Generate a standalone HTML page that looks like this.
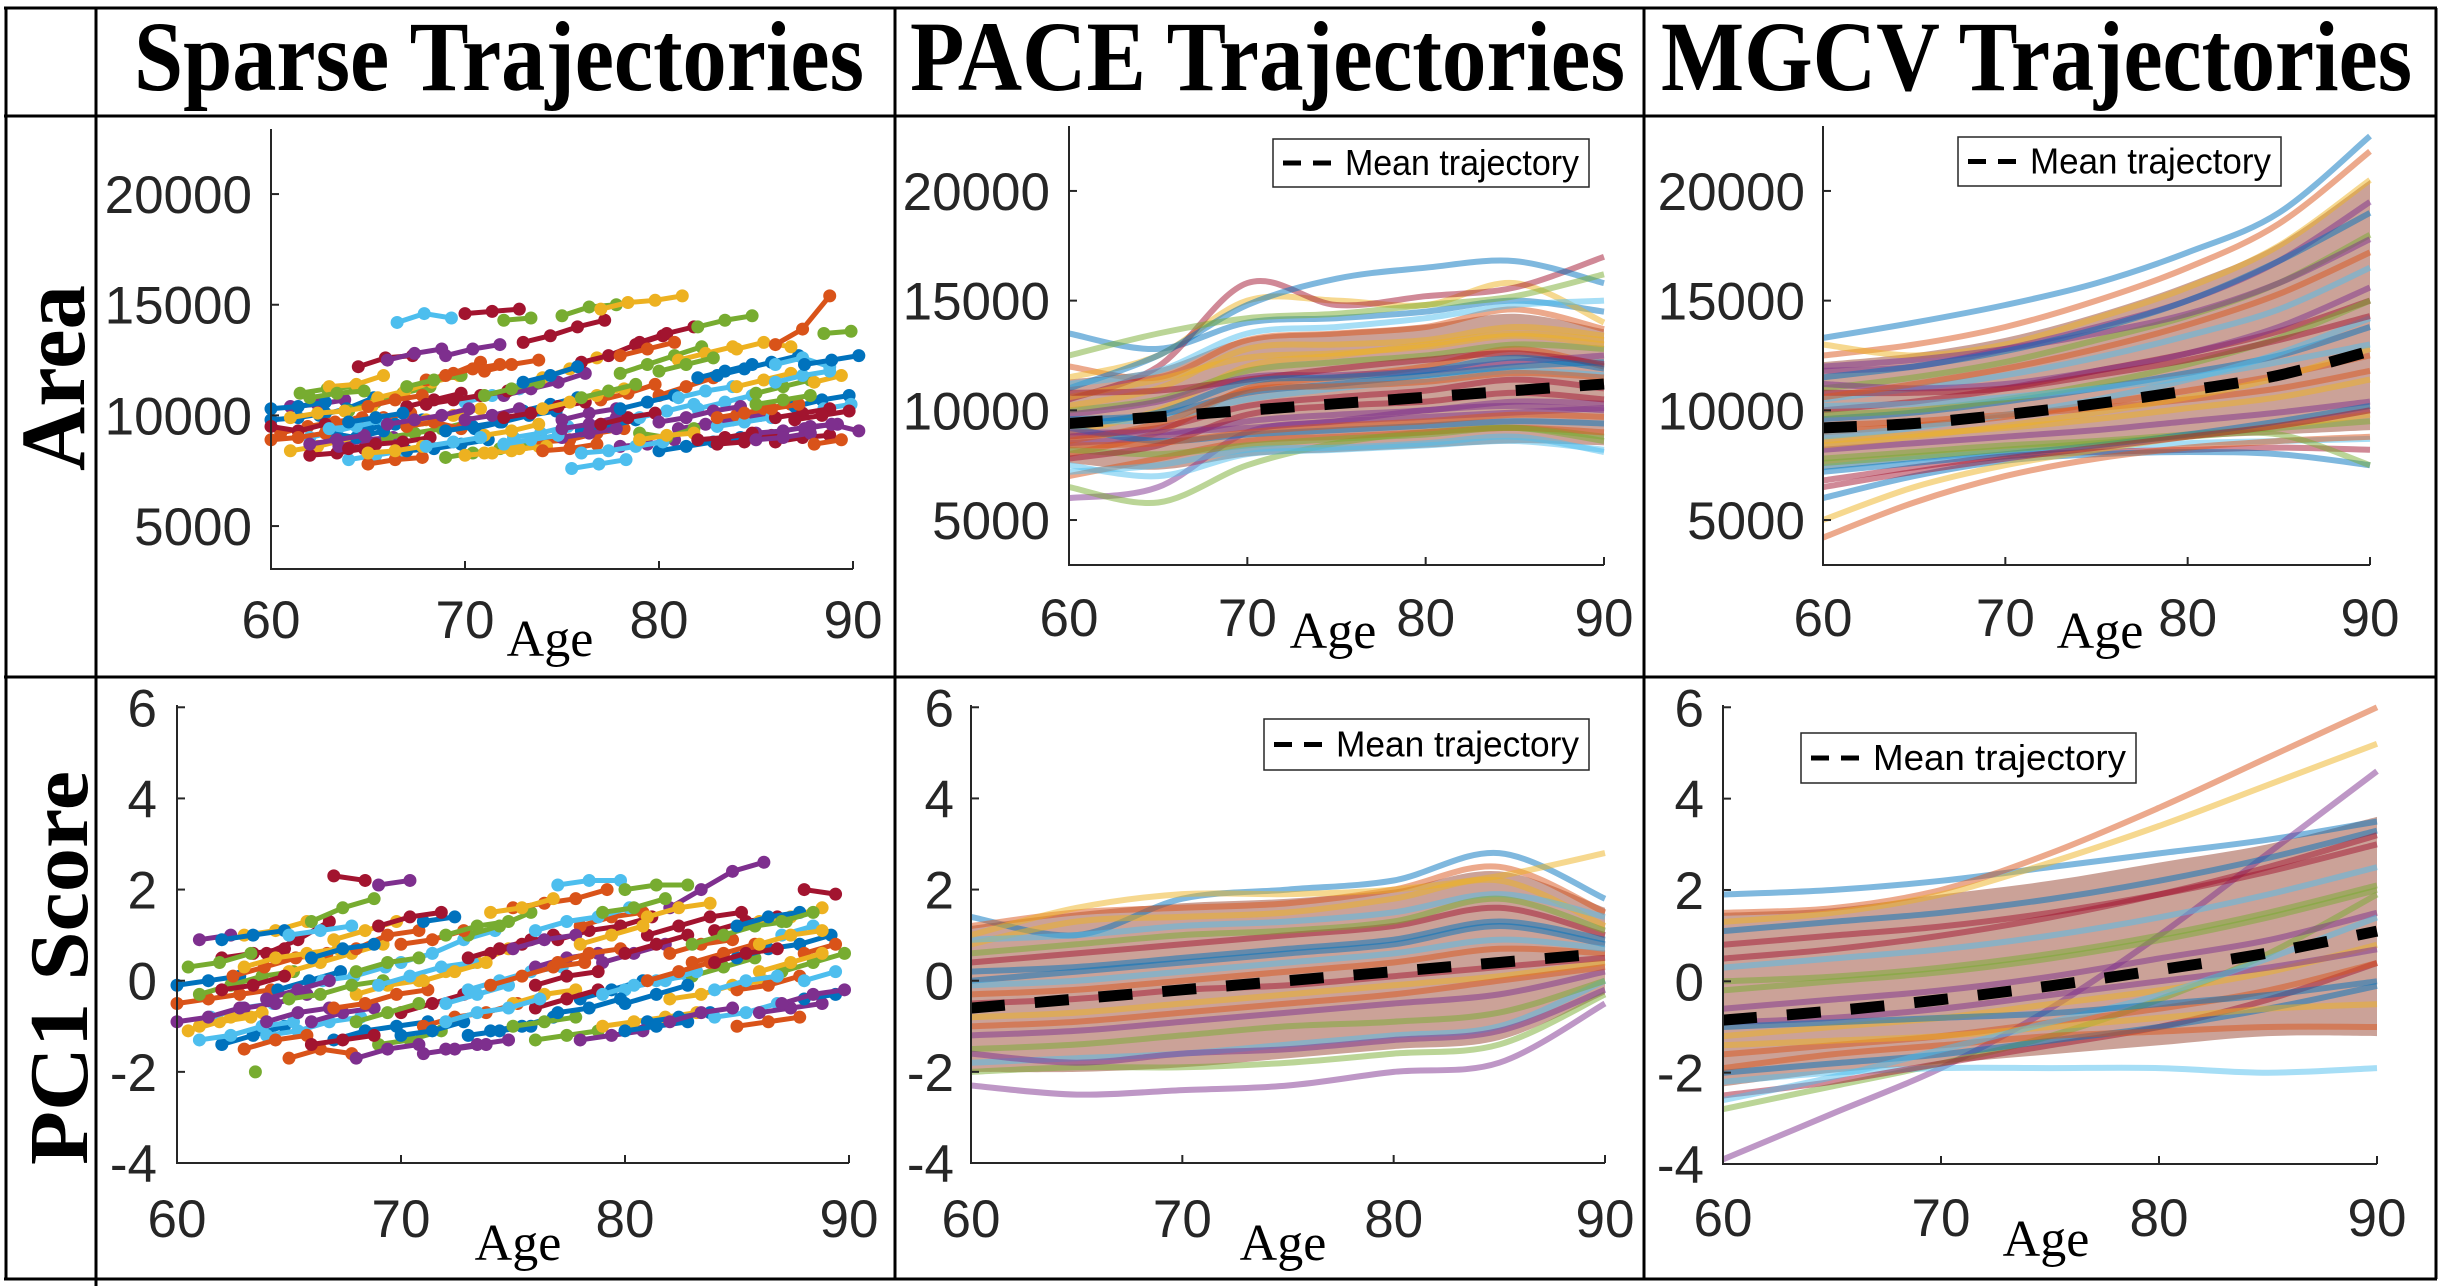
<!DOCTYPE html>
<html><head><meta charset="utf-8"><style>
html,body{margin:0;padding:0;background:#fff}
svg{display:block}
.tk{font-family:"Liberation Sans",sans-serif;font-size:53px;fill:#262626}
.hd{font-family:"Liberation Serif",serif;font-weight:bold;font-size:100px;fill:#000}
.ag{font-family:"Liberation Serif",serif;font-size:52px;fill:#000}
.lg{font-family:"Liberation Sans",sans-serif;font-size:36px;fill:#000}
</style></head><body>
<svg id="fig" width="2440" height="1286" viewBox="0 0 2440 1286" xmlns="http://www.w3.org/2000/svg">
<g stroke="#000" stroke-width="3">
<line x1="4" y1="8" x2="2437" y2="8"/><line x1="4" y1="116" x2="2437" y2="116"/>
<line x1="4" y1="677" x2="2437" y2="677"/><line x1="4" y1="1279" x2="2437" y2="1279"/>
<line x1="6" y1="8" x2="6" y2="1279"/><line x1="96" y1="8" x2="96" y2="1286"/>
<line x1="895" y1="8" x2="895" y2="1279"/><line x1="1644" y1="8" x2="1644" y2="1279"/>
<line x1="2436" y1="8" x2="2436" y2="1279"/>
</g>
<text class="hd" x="134" y="90" textLength="730" lengthAdjust="spacingAndGlyphs">Sparse Trajectories</text>
<text class="hd" x="910" y="90" textLength="715" lengthAdjust="spacingAndGlyphs">PACE Trajectories</text>
<text class="hd" x="1661" y="90" textLength="751" lengthAdjust="spacingAndGlyphs">MGCV Trajectories</text>
<text class="hd" transform="translate(84,378) rotate(-90)" text-anchor="middle" style="font-size:92px" textLength="186" lengthAdjust="spacingAndGlyphs">Area</text>
<text class="hd" transform="translate(87,968) rotate(-90)" text-anchor="middle" style="font-size:84px" textLength="394" lengthAdjust="spacingAndGlyphs">PC1 Score</text>
</svg>
<script>
const colors=['#0072BD','#D95319','#EDB120','#7E2F8E','#77AC30','#4DBEEE','#A2142F'];
const smoothAges=[60,65,70,75,80,85,90];
const areaTicks=[5000,10000,15000,20000];
const pcTicks=[-4,-2,0,2,4,6];
const ageTicks=[60,70,80,90];
const sparseStep=1.4;

const sparseArea=[[60,9800,9900,10100],[60.5,9200,9500,9700,9900],[61,8400,8600,8900],[61,10400,10500,10700],[61.5,11000,11200,11300],[62,9000,9300,9600,9800],[62,8200,8300,8500],[62.5,10000,10300,10800],[63,9600,9700,9900,10100],[63,11300,11400,11800],[63.5,8600,8900,9000],[64,10200,10600,11000,11300],[64,8000,8200,8400],[64.5,12200,12600,12700],[65,9400,9600,9800],[65,7800,8000,8100],[65.5,10800,11100,11500,11800],[66,12500,12800,13000],[66,9000,9200,9400,9700],[66.5,14200,14600,14400],[67,10400,10700,11000],[67,8400,8500,8700,8900],[68,11600,11900,12400],[68,9800,10000,10300],[69,12700,13000,13200],[69,8100,8300,8500,8700],[70,10600,10900,11200],[70,14600,14700,14800],[70.5,9400,9700,10000,10200],[71,12000,12300,12500],[71,8300,8400,8600],[72,10900,11200,11500,11900],[72,14300,14400],[72.5,9000,9200,9500],[73,13300,13600,14000,14300],[73,10200,10500,10800],[74,8800,8900,9200,9400],[74,11700,12100,12600],[75,9800,10100,10300],[75,14500,14900,15000],[75.5,7600,7800,8000],[76,12400,12700,13200,13600],[76,9300,9500,9800],[77,10700,11000,11400],[77,14800,15100,15200,15400],[78,8600,8700,8900],[78,11900,12300,12700,13100],[79,9900,10200,10500],[79,13300,13700,14000],[80,8400,8600,8800,9000],[80,10900,11300,11700],[81,12500,12800,13100],[81,9400,9600,9800,10000],[82,14000,14300,14500],[82,10300,10600,10900],[83,8700,8800,9100],[83,11800,12100,12400,12700],[84,10000,10300,10500],[84,13000,13300,13100],[85,9200,9300,9500,9600],[85,11000,11300,11600],[86,12300,12600,12200],[86,8800,9000,9100],[87,10400,10700,10900],[86,13200,13900,15400],[88,11500,11800],[87.5,9400,9600,9300],[88.5,13700,13800],[88.5,10300,10500],[60,9500,9300,9600],[63,9200,9000,9300],[67,9500,9700,9400],[71,9100,9300,9600],[75,9000,9200,9400],[79,9200,9000,9400],[83,9500,9700,9900],[86,9900,10100,10300],
[60,10300,10400,10600],[60,8900,9000,9200],[61,9900,10100,10200,10400],[62,8700,8900,9100],[62,10800,11000,11100],[63,9400,9500,9800],[64,8500,8700,8800,9000],[64,9700,9900,10100],[65,10400,10700,10900],[65,8300,8400,8600],[66,9600,9800,10000,10300],[67,11300,11600,11800],[68,8600,8800,9000],[68,10500,10700,10900,11100],[69,9300,9500,9700],[69,11800,12100,12300],[70,8200,8300,8500,8600],[70,9800,10000,10300],[71,10900,11200,11500],[72,8700,8900,9100],[72,9900,10100,10400,10600],[73,11500,11800,12200],[74,8400,8500,8700],[74,10300,10600,10900,11200],[75,9400,9600,9900],[76,10800,11100,11400],[76,8300,8400,8600,8800],[77,9600,9900,10100],[78,10300,10600,10900],[78,12700,13000,13300],[79,8900,9100,9200],[80,9700,9900,10200,10400],[80,12000,12300,12600],[81,10800,11100,11300],[82,8900,9000,9200],[82,11700,12000,12300],[83,9900,10100,10300,10500],[84,11300,11600,11900],[85,8900,9000,9200],[85,10500,10700,10900],[86,11500,11800,12000],[87,9800,10000,10200],[87.5,12300,12500,12700],[88,8700,8900]];
const sparsePC=[[60,-0.1,0.0,0.1],[60,-0.5,-0.4,-0.3,-0.2],[60.5,-1.1,-0.9,-0.8],[61,0.9,1.0],[61,-0.3,-0.1,0.1,0.2],[61.5,-0.8,-0.6,-0.5],[62,0.5,0.6,0.7],[62,-1.4,-1.2,-1.0],[62.5,0.1,0.3,0.5,0.6],[63,1.0,1.1,1.3],[63,-0.6,-0.5,-0.3],[63.5,-2.0],[64,-1.2,-1.1,-0.9,-0.8],[64,0.6,0.9,1.3],[64.5,-0.2,0.0,0.2],[65,-1.7,-1.5,-1.6],[65,0.2,0.4,0.6,0.8],[66,-0.9,-0.7,-0.6],[66,1.3,1.6,1.8],[66.5,0.0,0.1,0.3],[67,2.3,2.2],[67,-1.3,-1.1,-1.0,-0.9],[68,0.7,1.0,1.1],[68,-0.3,-0.1,0.0],[69,2.1,2.2],[69,-1.4,-1.3,-1.1],[70,0.4,0.6,0.9,1.1],[70,-0.7,-0.5,-0.3],[71,1.3,1.4],[71,-1.0,-0.8,-0.7,-0.5],[72,0.2,0.4,0.7],[72,-1.5,-1.4,-1.3],[73,1.0,1.2,1.5],[73,-0.2,0.0,0.2,0.3],[74,0.6,0.8,1.0],[74,-1.1,-1.0,-0.8],[75,1.6,1.7,1.8,2.0],[75,-0.5,-0.3,-0.2],[76,0.3,0.5,0.6],[76,-1.3,-1.2,-1.1],[77,2.1,2.2,2.2],[77,0.9,1.1,1.2,1.4],[78,-0.4,-0.2,0.0],[78,1.2,1.4,1.5],[79,-1.0,-0.9,-0.8,-0.7],[79,0.4,0.6,0.8],[80,2.0,2.1,2.1],[80,-0.2,0.0,0.1],[81,1.0,1.2,1.4,1.5],[81,-0.9,-0.8,-0.7],[82,0.6,0.8,0.9],[82,-0.4,-0.3,-0.1,0.0],[82,1.6,2.0,2.4,2.6],[83,0.1,0.3,0.5],[84,-0.8,-0.7,-0.5],[84,1.1,1.3,1.4],[85,0.5,0.7,0.8,1.0],[85,-0.2,-0.1,0.1],[86,1.3,1.4,1.6],[86,-0.7,-0.6,-0.5],[87,0.2,0.4,0.6],[87,1.0,1.2],[88,2.0,1.9],[88,-0.4,-0.3],[88,0.6,0.8],[61,-1.0,-0.8,-0.7],[64,-0.4,-0.2,0.0],[68,-0.9,-0.7,-0.5],[72,-0.5,-0.3,-0.1],[76,-0.6,-0.4,-0.2],[80,-0.5,-0.3,-0.1],[83,0.4,0.6,0.8],[86,0.2,0.4,0.6],
[60,-0.9,-0.8,-0.6],[60.5,0.3,0.4,0.6],[61,-1.3,-1.2,-1.0,-0.9],[62,-0.2,-0.1,0.1],[62,0.9,1.0,1.1],[63,-1.5,-1.3,-1.2],[63,0.3,0.5,0.6,0.7],[64,-0.9,-0.7,-0.6],[65,-0.4,-0.3,-0.1,0.0],[65,1.0,1.1,1.2],[66,-1.4,-1.3,-1.2],[66,0.5,0.7,0.8],[67,-0.6,-0.5,-0.3,-0.2],[67,0.9,1.1,1.3],[68,-1.7,-1.5,-1.4],[68,0.2,0.4,0.5],[69,-0.1,0.1,0.3,0.4],[69,1.2,1.4,1.5],[70,-1.2,-1.1,-0.9],[70,0.8,0.9,1.1],[71,0.0,0.2,0.4],[71,-1.6,-1.5,-1.4],[72,1.0,1.2,1.3],[72,-0.9,-0.7,-0.6,-0.4],[73,0.5,0.7,0.9],[73,-1.2,-1.1,-1.0],[74,-0.1,0.1,0.3,0.4],[74,1.5,1.6,1.8],[75,0.7,0.9,1.0],[75,-1.0,-0.9,-0.8],[76,1.1,1.3,1.4,1.6],[76,-0.1,0.1,0.2],[77,-0.7,-0.6,-0.4],[77,0.4,0.6,0.7],[78,0.8,1.0,1.2],[78,-1.3,-1.2,-1.1],[79,1.5,1.6,1.8],[79,-0.3,-0.1,0.0,0.2],[80,0.6,0.8,1.0],[80,-1.1,-1.0,-0.9],[81,0.0,0.2,0.4],[81,1.4,1.6,1.7],[82,-0.9,-0.7,-0.6],[83,0.8,1.0,1.2,1.3],[84,-0.2,0.0,0.1],[84,0.4,0.6,0.7],[85,1.2,1.4,1.5],[85,-1.0,-0.9,-0.8],[86,0.8,1.0,1.1],[87,-0.5,-0.3,-0.2],[87,1.3,1.5],[88,0.0,0.2]];

const paceAreaMean=[9400,9700,10000,10300,10600,10900,11200];
const paceAreaLow=[7600,7300,7900,8100,8300,8500,8400];
const paceAreaHigh=[11400,11900,13300,13600,13900,14400,13700];
const paceArea=[[13500,12800,14000,14200,14500,15000,14500],[12000,11500,13200,13500,13800,14600,13700],[11500,12500,15000,15000,14800,15800,14000],[6000,6500,9000,9500,10000,10200,10000],[6500,5800,7500,8500,9000,9200,8800],[7500,7000,8000,8200,8400,8600,8200],[10500,12000,15800,14800,15200,15600,17000],[11000,12500,14800,16000,16500,16800,15800],[8000,9000,11000,11500,12000,12800,12000],[9000,10000,12000,12500,13000,13500,13200],[8500,8800,9500,9800,10000,10400,10300],[10000,10500,11800,12200,12500,13000,12800],[9500,9600,10500,11000,11400,11800,11600],[8800,9200,10200,10600,10900,11400,11000],[9200,8600,8900,9100,9300,9500,9400],[7000,7800,8600,8800,9000,9200,9000],[10200,11000,12800,13000,13200,13800,13400],[9800,10400,11500,11600,11800,12200,12500],[8200,8000,8400,8700,8900,9200,8600],[11200,11800,13500,13800,14200,14800,15000],[7800,8400,9800,10200,10400,10800,10500],[9600,9800,10800,11200,11600,12000,12200],[8600,9400,10900,11100,11300,11700,11500],[10600,11400,12400,12600,12900,13400,13000],[9000,9000,9200,9500,9700,9900,10100],[12500,13500,14200,14400,14800,15200,16200],[7200,7500,8200,8300,8500,8800,8100],[10800,10900,11400,11900,12300,12600,12100],[9300,9900,11300,11500,11800,12400,11900],[8400,8500,9000,9300,9500,9800,9700]];

const mgcvAreaMean=[9200,9400,9800,10300,10900,11600,12700];
const mgcvAreaLow=[7300,7700,8100,8400,8700,8900,9100];
const mgcvAreaHigh=[12200,12600,13300,14400,15800,17600,20500];
const mgcvArea=[[13300,14000,14800,15800,17200,19000,22500],[12500,13000,13800,15000,16500,18500,21800],[13000,12500,13000,14200,15600,17500,20500],[11800,12000,12800,13800,15000,16800,19500],[11000,11500,12200,13200,14300,15800,18000],[10500,11000,11600,12400,13400,14600,16500],[10000,10400,11000,11800,12600,13600,15000],[9600,9900,10400,11000,11700,12500,13800],[9000,9300,9700,10300,10900,11600,12500],[8600,8900,9200,9600,10100,10600,11400],[8200,8500,8800,9100,9500,9900,10400],[7800,8100,8400,8600,8900,9200,9500],[7400,7800,8100,8300,8500,8600,8700],[6800,7400,7900,8100,8200,8300,8200],[6000,7000,7700,8000,8100,8000,7500],[4200,5800,7000,7800,8300,8600,8800],[5000,6500,7500,8200,8800,9300,9800],[11200,11000,11200,11800,12600,13800,15600],[9800,10000,10500,11200,12100,13300,15000],[8800,9200,9800,10500,11400,12600,14200],[10800,10800,11000,11600,12300,13200,14300],[7200,7600,8000,8400,8900,9500,10200],[9300,9500,9800,10100,10500,11000,11800],[8400,8800,9300,9900,10600,11500,12800],[12000,12300,12800,13500,14400,15800,17800],[7600,7900,8200,8500,8800,8900,7500],[10200,10300,10600,11000,11500,12200,13000],[6500,7200,7800,8300,8800,9300,10000],[11500,12000,12700,13700,15000,16800,19000],[10600,11200,11900,12800,13900,15300,17200]];

const pacePCMean=[-0.6,-0.4,-0.2,0.0,0.2,0.4,0.6];
const pacePCLow=[-2.0,-2.0,-1.9,-1.7,-1.5,-1.3,-0.3];
const pacePCHigh=[1.2,1.5,1.7,1.8,2.0,2.4,1.6];
const pacePC=[[1.4,1.0,1.8,2.0,2.2,2.8,1.8],[1.2,1.5,1.6,1.7,2.0,2.5,1.5],[0.8,1.3,1.4,1.5,1.8,2.2,1.2],[-2.3,-2.5,-2.4,-2.3,-2.0,-1.8,-0.5],[-2.0,-1.9,-1.9,-1.8,-1.6,-1.4,-0.3],[-1.8,-1.7,-1.6,-1.4,-1.2,-1.0,0.0],[0.4,0.6,0.8,1.0,1.2,1.6,1.0],[0.0,0.2,0.4,0.6,0.8,1.2,0.8],[-0.3,-0.2,0.0,0.2,0.4,0.7,0.6],[-0.8,-0.7,-0.5,-0.3,-0.1,0.1,0.4],[-1.2,-1.1,-0.9,-0.7,-0.5,-0.3,0.2],[-1.5,-1.4,-1.2,-1.0,-0.9,-0.7,0.0],[0.9,1.0,1.2,1.3,1.5,1.9,1.4],[-0.5,-0.4,-0.2,-0.1,0.1,0.3,0.5],[0.2,0.3,0.5,0.7,0.9,1.3,0.9],[-1.0,-0.9,-0.7,-0.5,-0.3,0.0,0.3],[1.0,1.6,1.9,1.9,2.0,2.3,2.8],[-1.6,-1.8,-1.6,-1.5,-1.3,-1.1,-0.2],[0.6,0.8,1.0,1.1,1.3,1.8,1.1],[-0.1,0.0,0.2,0.4,0.6,0.9,0.7]];

const mgcvPCMean=[-0.85,-0.65,-0.4,-0.1,0.25,0.62,1.1];
const mgcvPCLow=[-2.3,-2.0,-1.8,-1.6,-1.4,-1.2,-1.2];
const mgcvPCHigh=[1.5,1.6,1.9,2.2,2.6,3.0,3.6];
const mgcvPC=[[1.9,2.0,2.2,2.5,2.8,3.1,3.5],[1.5,1.6,2.0,2.8,3.8,4.9,6.0],[1.3,1.5,1.9,2.6,3.4,4.3,5.2],[-3.9,-2.9,-1.9,-0.6,1.0,2.8,4.6],[-2.8,-2.3,-1.8,-1.2,-0.4,0.6,1.9],[-2.2,-2.0,-1.9,-1.9,-1.9,-2.0,-1.9],[-2.5,-2.2,-1.8,-1.4,-1.0,-0.4,0.4],[-2.0,-1.8,-1.6,-1.3,-1.0,-0.6,-0.1],[-1.6,-1.4,-1.2,-0.9,-0.6,-0.2,0.4],[-1.2,-1.0,-0.8,-0.5,-0.2,0.2,0.8],[-0.6,-0.4,-0.2,0.1,0.5,0.9,1.5],[-0.2,0.0,0.2,0.5,0.9,1.4,2.0],[0.3,0.5,0.7,1.0,1.4,1.9,2.5],[0.8,1.0,1.2,1.5,1.9,2.4,3.0],[1.1,1.3,1.5,1.8,2.2,2.7,3.3],[-1.9,-1.6,-1.4,-1.2,-1.1,-1.0,-1.0],[-1.4,-1.3,-1.2,-1.0,-0.8,-0.6,-0.5],[-0.9,-0.8,-0.6,-0.3,0.0,0.3,0.7],[0.0,0.1,0.3,0.6,1.0,1.5,2.1],[-2.6,-2.1,-1.5,-0.9,-0.3,0.5,1.4],[0.5,0.7,1.0,1.4,1.9,2.5,3.2],[-1.0,-0.9,-0.8,-0.7,-0.5,-0.3,0.0]];

const NS='http://www.w3.org/2000/svg';
const svg=document.getElementById('fig');
function mk(tag,attrs,parent){const e=document.createElementNS(NS,tag);for(const k in attrs)e.setAttribute(k,attrs[k]);(parent||svg).appendChild(e);return e;}
function crPath(pts){let d='M'+pts[0][0].toFixed(1)+','+pts[0][1].toFixed(1);
 for(let i=0;i<pts.length-1;i++){const p0=pts[Math.max(0,i-1)],p1=pts[i],p2=pts[i+1],p3=pts[Math.min(pts.length-1,i+2)];
 const c1=[p1[0]+(p2[0]-p0[0])/6,p1[1]+(p2[1]-p0[1])/6],c2=[p2[0]-(p3[0]-p1[0])/6,p2[1]-(p3[1]-p1[1])/6];
 d+='C'+c1[0].toFixed(1)+','+c1[1].toFixed(1)+' '+c2[0].toFixed(1)+','+c2[1].toFixed(1)+' '+p2[0].toFixed(1)+','+p2[1].toFixed(1);}return d;}

function panel(cfg){
 const g=mk('g',{});
 
 
 const X=v=>cfg.x0+(v-60)/30*(cfg.x1-cfg.x0);
 const Y=v=>cfg.yb+(v-cfg.vmin)/(cfg.vmax-cfg.vmin)*(cfg.yt-cfg.yb);
 const marks=mk('g',{},g);
 
 
 if(cfg.smooth){
  const up=smoothAges.map((a,i)=>[X(a),Y(cfg.high[i])]);
  const lo=smoothAges.map((a,i)=>[X(a),Y(cfg.low[i])]).reverse();
  const band=mk('path',{d:crPath(up)+'L'+crPath(lo).slice(1)+'Z',fill:'#b57a6c','fill-opacity':'0.7',stroke:'none'},marks);
  
  
  cfg.curves.forEach((c,i)=>{
   const p=mk('path',{d:crPath(smoothAges.map((a,j)=>[X(a),Y(c[j])])),fill:'none',stroke:colors[i%7],'stroke-width':'6','stroke-opacity':'0.5'},marks);
   
   
  });
  const m=mk('path',{d:crPath(smoothAges.map((a,j)=>[X(a),Y(cfg.mean[j])])),fill:'none',stroke:'#000','stroke-width':'11','stroke-dasharray':'34 30'},marks);
  
  
 } else {
  cfg.curves.forEach((c,i)=>{
   const col=colors[i%7];
   const pts=c.slice(1).map((v,j)=>[X(c[0]+j*sparseStep),Y(v)]);
   if(pts.length>1){const l=mk('polyline',{points:pts.map(p=>p.join(',')).join(' '),fill:'none',stroke:col,'stroke-width':'5'},marks);
    
    }
   pts.forEach(p=>{const d=mk('circle',{cx:p[0],cy:p[1],r:'6.5',fill:col},marks);
    
    });
  });
 }
 const ax=mk('g',{stroke:'#262626','stroke-width':'2',fill:'none'},g);
 
 
 mk('path',{d:`M${cfg.x0},${cfg.yt}V${cfg.yb}H${cfg.x1}`},ax);
 ageTicks.forEach(a=>{mk('line',{x1:X(a),x2:X(a),y1:cfg.yb,y2:cfg.yb-8},ax);
  const t=mk('text',{x:X(a),y:cfg.xly,'text-anchor':'middle',class:'tk'},g);t.textContent=a;
  
  });
 cfg.ticks.forEach(v=>{mk('line',{x1:cfg.x0,x2:cfg.x0+8,y1:Y(v),y2:Y(v)},ax);
  const t=mk('text',{x:cfg.ylx,y:Y(v)+19,'text-anchor':'end',class:'tk'},g);t.textContent=v;
  
  });
 const ag=mk('text',{x:cfg.agx,y:cfg.agy,'text-anchor':'middle',class:'ag'},g);ag.textContent='Age';
 
 
 if(cfg.leg){const [lx,ly,lw,lh]=cfg.leg;const lg=mk('g',{},g);
  
  
  mk('rect',{x:lx,y:ly,width:lw,height:lh,fill:'#fff',stroke:'#262626','stroke-width':'1.5'},lg);
  mk('line',{x1:lx+10,x2:lx+62,y1:ly+lh/2,y2:ly+lh/2,stroke:'#000','stroke-width':'5','stroke-dasharray':'18 12'},lg);
  const t=mk('text',{x:lx+72,y:ly+lh/2+12,class:'lg',textLength:lw-82,lengthAdjust:'spacingAndGlyphs'},lg);t.textContent='Mean trajectory';}
}
panel({name:'sparse-area-panel',x0:271,x1:853,yt:129,yb:569,vmin:3060,vmax:22940,ticks:areaTicks,curves:sparseArea,smooth:false,ylx:252,xly:638,agx:550,agy:656});
panel({name:'pace-area-panel',x0:1069,x1:1604,yt:126,yb:565,vmin:2950,vmax:22960,ticks:areaTicks,curves:paceArea,smooth:true,mean:paceAreaMean,low:paceAreaLow,high:paceAreaHigh,ylx:1050,xly:636,agx:1333,agy:648,leg:[1273,139,316,48]});
panel({name:'mgcv-area-panel',x0:1823,x1:2370,yt:126,yb:565,vmin:2950,vmax:22960,ticks:areaTicks,curves:mgcvArea,smooth:true,mean:mgcvAreaMean,low:mgcvAreaLow,high:mgcvAreaHigh,ylx:1805,xly:636,agx:2100,agy:648,leg:[1958,137,323,49]});
panel({name:'sparse-pc1-panel',x0:177,x1:849,yt:705,yb:1163,vmin:-4,vmax:6.05,ticks:pcTicks,curves:sparsePC,smooth:false,ylx:157,xly:1237,agx:518,agy:1260});
panel({name:'pace-pc1-panel',x0:971,x1:1605,yt:705,yb:1163,vmin:-4,vmax:6.05,ticks:pcTicks,curves:pacePC,smooth:true,mean:pacePCMean,low:pacePCLow,high:pacePCHigh,ylx:954,xly:1237,agx:1283,agy:1260,leg:[1264,719,325,51]});
panel({name:'mgcv-pc1-panel',x0:1723,x1:2377,yt:705,yb:1164,vmin:-4,vmax:6.05,ticks:pcTicks,curves:mgcvPC,smooth:true,mean:mgcvPCMean,low:mgcvPCLow,high:mgcvPCHigh,ylx:1704,xly:1236,agx:2046,agy:1256,leg:[1801,733,335,50]});
</script>
</body></html>
